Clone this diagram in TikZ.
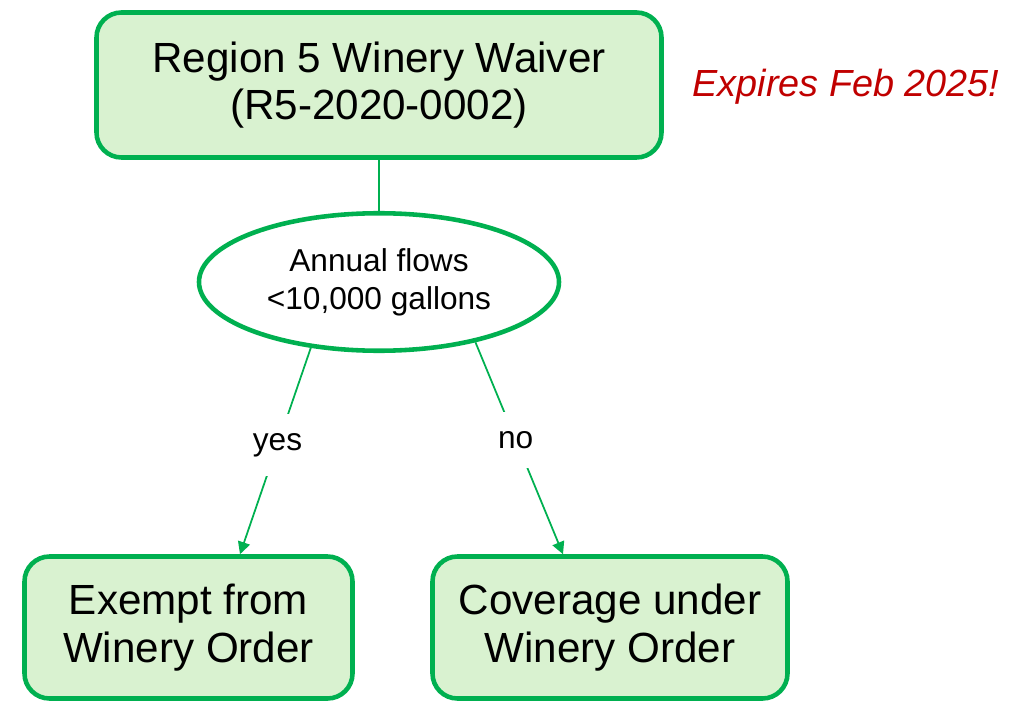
\documentclass[tikz,border=0pt]{standalone}
\usepackage{fontspec}
\setmainfont{Liberation Sans}
\usetikzlibrary{shapes.geometric,arrows.meta}
\definecolor{boxgreen}{HTML}{00B050}
\definecolor{boxfill}{HTML}{D9F2D0}
\definecolor{notered}{HTML}{C00000}
\tikzset{
  box/.style={draw=boxgreen, fill=boxfill, line width=2.6pt, rounded corners=0.5cm, align=center, font=\fontsize{24}{27}\selectfont},
  ask/.style={ellipse, draw=boxgreen, fill=white, line width=2.6pt, align=center, minimum width=7.2cm, minimum height=2.75cm, font=\fontsize{18}{21.5}\selectfont},
  link/.style={draw=boxgreen, line width=1pt},
  lbl/.style={fill=white, inner xsep=2pt, inner ysep=11pt, font=\fontsize{18}{21}\selectfont}
}
\begin{document}
\begin{tikzpicture}[x=0.2mm, y=-0.2mm]
\useasboundingbox (0,0) rectangle (1020,704);

\node[box, minimum width=11.3cm, minimum height=2.9cm] (waiver) at (379,85) {Region 5 Winery Waiver\\(R5-2020-0002)};
\node[text=notered, font=\fontsize{21.5}{24}\selectfont\itshape] (note) at (846,87) {Expires Feb 2025!};
\node[ask] (flows) at (379,282) {Annual flows\\<10,000 gallons};
\node[box, minimum width=6.56cm, minimum height=2.84cm] (exempt) at (188.5,627.5) {Exempt from\\Winery Order};
\node[box, minimum width=7.1cm, minimum height=2.84cm] (cover) at (610,627.5) {Coverage under\\Winery Order};

\draw[link, line width=1.6pt] (waiver.south) -- (flows.north);
\draw[link, -{Triangle[length=7pt,width=7pt]}] (flows.224) -- node[lbl, pos=0.47]{yes} ([xshift=10.3mm]exempt.north);
\draw[link, -{Triangle[length=7pt,width=7pt]}] (flows.328) -- node[lbl, pos=0.46]{no} ([xshift=-9.4mm]cover.north);

\end{tikzpicture}
\end{document}
